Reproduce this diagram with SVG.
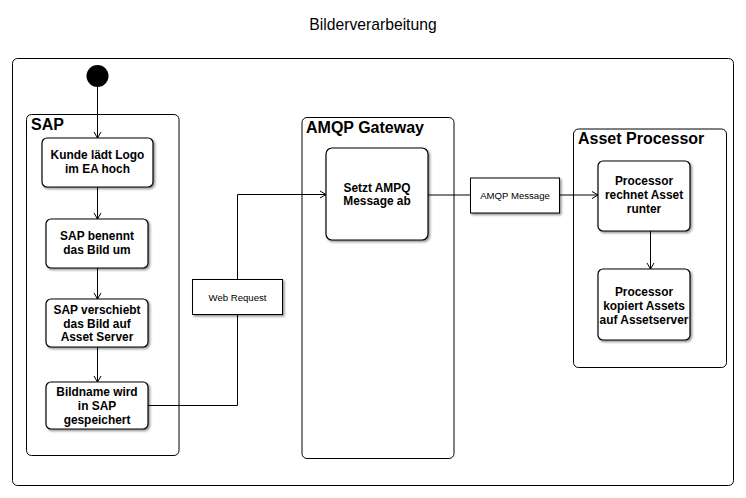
<svg xmlns="http://www.w3.org/2000/svg" width="746" height="498" viewBox="0 0 746 498">
<defs>
<style>
.frame{fill:#fff;stroke:#000;stroke-width:1}
.node{fill:#fff;stroke:#000;stroke-width:1.2;filter:url(#sh)}
.box{fill:#fff;stroke:#000;stroke-width:1;filter:url(#sh)}
.ct{font-family:"Liberation Sans",Arial,sans-serif;font-weight:bold;font-size:16px;fill:#000}
.nt{font-family:"Liberation Sans",Arial,sans-serif;font-weight:bold;font-size:11.9px;fill:#000;text-anchor:middle}
.lt{font-family:"Liberation Sans",Arial,sans-serif;font-size:9.6px;fill:#000;text-anchor:middle}
.edge{fill:none;stroke:#000;stroke-width:1;marker-end:url(#arr)}
</style>
<filter id="sh" x="-10%" y="-10%" width="130%" height="130%">
<feDropShadow dx="1.5" dy="1.5" stdDeviation="1" flood-color="#000" flood-opacity="0.45"/>
</filter>
<marker id="arr" markerUnits="userSpaceOnUse" markerWidth="10" markerHeight="10" refX="8" refY="5" orient="auto">
<path d="M2,1.5 L8,5 L2,8.5" fill="none" stroke="#000" stroke-width="1"/>
</marker>
</defs>
<rect width="746" height="498" fill="#fff"/>
<text x="373" y="30" text-anchor="middle" font-family="Liberation Sans, Arial, sans-serif" font-size="15.7">Bilderverarbeitung</text>
<g id="frame"><rect class="frame" x="12.5" y="58.5" width="721" height="427" rx="5"/></g>
<g id="sap"><rect class="frame" x="26.5" y="114.5" width="152.5" height="341" rx="5"/><text class="ct" x="31" y="130">SAP</text></g>
<g id="amqp-gateway"><rect class="frame" x="302" y="117.5" width="152" height="341" rx="5"/><text class="ct" x="306" y="133">AMQP Gateway</text></g>
<g id="asset-processor"><rect class="frame" x="573.5" y="129" width="153" height="238.5" rx="5"/><text class="ct" x="578" y="144">Asset Processor</text></g>
<g id="connectors">
<path class="edge" d="M97.5,87 V138"/>
<path class="edge" d="M97.5,187 V219"/>
<path class="edge" d="M97.5,268 V299"/>
<path class="edge" d="M97.5,347 V382"/>
<path class="edge" d="M148,405.5 H237.5 V194.5 H326"/>
<path class="edge" d="M428,195 H598"/>
<path class="edge" d="M650.5,231 V269"/>
</g>
<g id="start"><circle cx="97.5" cy="76" r="11" fill="#000"/></g>
<g id="n1"><rect class="node" x="42" y="138" width="111" height="49" rx="5"/><text class="nt"><tspan x="97.5" y="159">Kunde lädt Logo</tspan><tspan x="97.5" y="173">im EA hoch</tspan></text></g>
<g id="n2"><rect class="node" x="46" y="219" width="102" height="49" rx="5"/><text class="nt"><tspan x="97" y="240">SAP benennt</tspan><tspan x="97" y="254">das Bild um</tspan></text></g>
<g id="n3"><rect class="node" x="46" y="299" width="102" height="48" rx="5"/><text class="nt"><tspan x="97" y="313.5">SAP verschiebt</tspan><tspan x="97" y="327.5">das Bild auf</tspan><tspan x="97" y="341">Asset Server</tspan></text></g>
<g id="n4"><rect class="node" x="46" y="382" width="102" height="47" rx="5"/><text class="nt"><tspan x="97" y="396">Bildname wird</tspan><tspan x="97" y="410">in SAP</tspan><tspan x="97" y="423.5">gespeichert</tspan></text></g>
<g id="web-request"><rect class="box" x="192.5" y="279.5" width="90" height="35"/><text class="lt" x="237.5" y="300.5">Web Request</text></g>
<g id="n5"><rect class="node" x="326" y="148" width="102" height="92" rx="6"/><text class="nt"><tspan x="377" y="191.5">Setzt AMPQ</tspan><tspan x="377" y="205">Message ab</tspan></text></g>
<g id="amqp-message"><rect class="box" x="470.5" y="178" width="89" height="35"/><text class="lt" x="515" y="199">AMQP Message</text></g>
<g id="n6"><rect class="node" x="598" y="161" width="92" height="70" rx="5"/><text class="nt"><tspan x="644" y="185">Processor</tspan><tspan x="644" y="199">rechnet Asset</tspan><tspan x="644" y="213">runter</tspan></text></g>
<g id="n7"><rect class="node" x="598" y="269" width="92" height="71" rx="5"/><text class="nt"><tspan x="644" y="296">Processor</tspan><tspan x="644" y="310">kopiert Assets</tspan><tspan x="644" y="324">auf Assetserver</tspan></text></g>
</svg>
